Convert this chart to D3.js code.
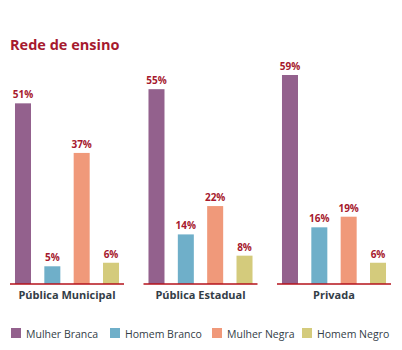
<!DOCTYPE html>
<html><head><meta charset="utf-8">
<script src="https://cdn.jsdelivr.net/npm/d3@7"></script>
<style>body{margin:0;background:#fff;}svg{display:block;font-family:"Open Sans",sans-serif;}</style>
</head><body><svg id="c" width="402" height="350"></svg>
<script>
const categories = ["Pública Municipal", "Pública Estadual", "Privada"];
const series = ["Mulher Branca", "Homem Branco", "Mulher Negra", "Homem Negro"];
const mulherBranca = [51, 55, 59];
const homemBranco = [5, 14, 16];
const mulherNegra = [37, 22, 19];
const homemNegro = [6, 8, 6];
const colors = ["#93618d", "#6fafc9", "#f0997a", "#d4cb7c"];
const values = [mulherBranca, homemBranco, mulherNegra, homemNegro];

const svg = d3.select("#c");
const baseY = 284;
const y = d3.scaleLinear().domain([0, 59]).range([baseY, 75]);
const x0 = d3.scaleBand().domain(categories).range([10, 391]).paddingInner(0.146).paddingOuter(0);
const x1 = d3.scaleBand().domain(series).range([0, x0.bandwidth()]).paddingInner(0.4545).paddingOuter(0.17);
const color = d3.scaleOrdinal().domain(series).range(colors);

svg.append("text").attr("x", 10).attr("y", 50).text("Rede de ensino")
  .attr("fill", "#a6192e").attr("font-size", 14.5).attr("font-weight", "bold");

const g = svg.selectAll("g.grp").data(categories).join("g").attr("class", "grp")
  .attr("transform", d => `translate(${x0(d)},0)`);

g.each(function(cat, ci) {
  const gg = d3.select(this);
  const data = series.map((s, si) => ({s, v: values[si][ci]}));
  gg.selectAll("rect").data(data).join("rect")
    .attr("x", d => x1(d.s)).attr("width", x1.bandwidth())
    .attr("y", d => y(d.v)).attr("height", d => baseY - y(d.v))
    .attr("fill", d => color(d.s));
  gg.selectAll("text.val").data(data).join("text").attr("class", "val")
    .attr("x", d => x1(d.s) + x1.bandwidth() / 2).attr("y", d => y(d.v) - 5)
    .attr("text-anchor", "middle").attr("font-size", 10).attr("font-weight", "bold")
    .attr("fill", "#a6192e").text(d => d.v + "%");
  gg.append("line").attr("x1", 0).attr("x2", x0.bandwidth()).attr("y1", baseY).attr("y2", baseY)
    .attr("stroke", "#b5121b").attr("stroke-width", 1.5);
  gg.append("text").attr("x", x0.bandwidth() / 2).attr("y", 299).attr("text-anchor", "middle")
    .attr("font-size", 11).attr("font-weight", "bold").attr("fill", "#333d47").text(cat);
});

const legendX = [11, 110, 212, 302];
const lg = svg.selectAll("g.leg").data(series).join("g").attr("class", "leg")
  .attr("transform", (d, i) => `translate(${legendX[i]},328)`);
lg.append("rect").attr("width", 10).attr("height", 10).attr("fill", d => color(d));
lg.append("text").attr("x", 15).attr("y", 9.5).attr("font-size", 10.5).attr("fill", "#333d47").text(d => d);
</script></body></html>
